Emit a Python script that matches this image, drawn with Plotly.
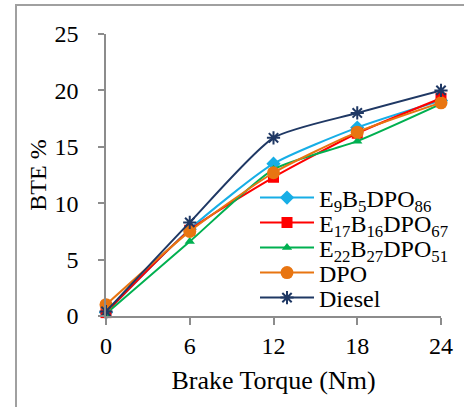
import plotly.graph_objects as go

torque = [0, 6, 12, 18, 24]
e9 = [0.3, 7.7, 13.5, 16.7, 19.1]
e17 = [0.3, 7.6, 12.3, 16.2, 19.3]
e22 = [0.2, 6.6, 13.0, 15.5, 18.8]
dpo = [1.0, 7.5, 12.7, 16.3, 18.9]
diesel = [0.4, 8.3, 15.8, 18.0, 20.0]

names = ["E<sub>9</sub>B<sub>5</sub>DPO<sub>86</sub>",
         "E<sub>17</sub>B<sub>16</sub>DPO<sub>67</sub>",
         "E<sub>22</sub>B<sub>27</sub>DPO<sub>51</sub>",
         "DPO", "Diesel"]
series = [e9, e17, e22, dpo, diesel]
colors = ["#17AEE6", "#FF0000", "#00B050", "#E87511", "#1F3864"]
symbols = ["diamond", "square", "triangle-up", "circle", "asterisk-open"]
sizes = [11, 11, 9, 13, 11]
legend_ids = ["legend", "legend2", "legend3", "legend4", "legend5"]
legend_cy = [198, 223, 248, 273, 298]  # pixel centres of legend rows

fig = go.Figure()
for n, s, c, sym, sz, lg in zip(names, series, colors, symbols, sizes, legend_ids):
    fig.add_trace(go.Scatter(
        x=torque, y=s, name=n, mode="lines+markers", legend=lg,
        line=dict(color=c, width=2, shape="spline", smoothing=0.6),
        marker=dict(symbol=sym, size=sz, color=c,
                    line=dict(color=c, width=2 if sym.startswith("asterisk") else 0)),
        cliponaxis=False,
    ))

axcol = "#8C8C8C"
font = "Times New Roman, Liberation Serif, serif"
PL, PT, PW, PH = 106, 34, 335, 282

legends = {}
for lg, cy in zip(legend_ids, legend_cy):
    legends[lg] = dict(x=(255 - PL) / PW, y=(PT + PH - cy) / PH,
                       xanchor="left", yanchor="middle",
                       bgcolor="rgba(0,0,0,0)", font=dict(size=24, family=font),
                       itemwidth=54, tracegroupgap=0)

fig.update_layout(
    width=464, height=407,
    margin=dict(l=PL, r=464 - PL - PW, t=PT, b=407 - PT - PH, autoexpand=False),
    paper_bgcolor="white", plot_bgcolor="white",
    font=dict(family=font, size=24, color="black"),
    showlegend=True,
    xaxis=dict(range=[0, 24], tickvals=torque, showgrid=False, zeroline=False,
               showline=True, linecolor=axcol, linewidth=1.5,
               ticks="outside", ticklen=7, tickcolor=axcol, tickwidth=1.5,
               tickfont=dict(size=24), ticklabelstandoff=0,
               title=dict(text="Brake Torque (Nm)", font=dict(size=26), standoff=13)),
    yaxis=dict(range=[0, 25], tickvals=[0, 5, 10, 15, 20, 25], showgrid=False, zeroline=False,
               showline=True, linecolor=axcol, linewidth=1.5,
               ticks="outside", ticklen=6, tickcolor=axcol, tickwidth=1.5,
               tickfont=dict(size=24), ticklabelstandoff=15,
               title=dict(text="BTE %", font=dict(size=24), standoff=1)),
    shapes=[dict(type="rect", xref="paper", yref="paper",
                 x0=(16 - PL) / PW, x1=(470 - PL) / PW,
                 y0=(PT + PH - 420) / PH, y1=(PT + PH - 5) / PH,
                 line=dict(color="#A0A0A0", width=2), layer="below")],
    **legends,
)

fig.write_html("out.html", config={"displayModeBar": False},
               post_script="document.body.style.margin='0';")
